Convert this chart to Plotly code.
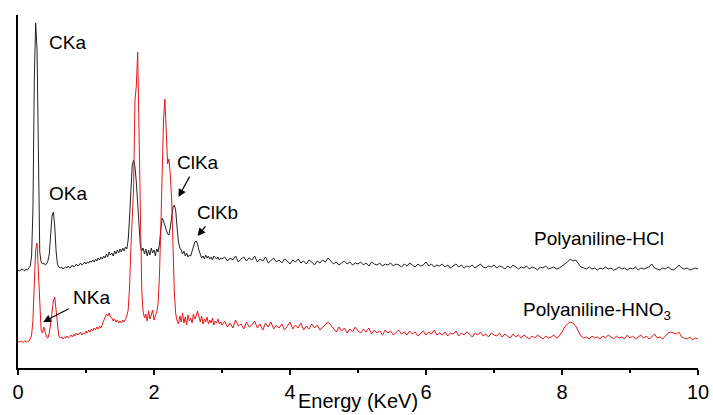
import numpy as np
import plotly.graph_objects as go

# Energy channels (keV): fine grid over the peak region, coarser beyond 3 keV
energy_low = np.round(np.arange(0, 3.0001, 0.02), 2)
energy_high = np.round(np.arange(3.04, 10.0001, 0.04), 2)
energy = np.concatenate([energy_low, energy_high])

# Polyaniline-HCl spectrum (offset upward), arbitrary intensity units
hcl_low = [
    98, 97, 98, 99, 98, 97, 99, 98, 100, 102,
    112, 160, 290, 345, 318, 180, 116, 106, 104, 105,
    103, 104, 107, 114, 134, 152, 156, 142, 117, 104,
    101, 100, 101, 99, 100, 101, 100, 102, 100, 101,
    103, 101, 102, 104, 102, 103, 105, 103, 104, 106,
    104, 106, 105, 107, 106, 108, 106, 109, 107, 110,
    108, 111, 109, 112, 110, 114, 111, 116, 113, 115,
    112, 117, 114, 118, 115, 119, 116, 120, 117, 121,
    119, 128, 150, 182, 203, 208, 201, 186, 162, 136,
    122, 117, 120, 114, 119, 112, 118, 113, 120, 115,
    118, 112, 119, 116, 124, 138, 150, 147, 141, 138,
    134, 133, 141, 152, 161, 163, 157, 140, 126, 120,
    118, 114, 117, 112, 115, 111, 113, 112, 117, 123,
    126, 127, 124, 118, 113, 110, 112, 109, 113, 110,
    112, 109, 111, 108, 112, 110, 109, 111, 108, 110,
    109,
]
hcl_high = [
    111, 107, 110, 108, 112, 106, 109, 111, 107, 110,
    108, 112, 106, 109, 107, 111, 105, 108, 110, 106,
    108, 105, 109, 107, 104, 108, 106, 109, 105, 107,
    104, 108, 106, 103, 107, 105, 108, 106, 110, 107,
    104, 106, 103, 105, 107, 104, 106, 103, 105, 104,
    106, 103, 105, 102, 106, 104, 103, 105, 102, 104,
    103, 105, 102, 104, 103, 101, 104, 102, 105, 103,
    101, 104, 102, 103, 106, 102, 104, 101, 103, 102,
    104, 101, 103, 100, 102, 104, 101, 103, 100, 102,
    101, 103, 100, 102, 104, 101, 100, 102, 101, 103,
    100, 102, 101, 99, 102, 100, 103, 101, 99, 101,
    100, 102, 99, 101, 100, 98, 101, 100, 102, 99,
    100, 101, 99, 100, 102, 104, 106, 109, 107, 108,
    104, 101, 100, 99, 101, 99, 100, 98, 100, 99,
    101, 99, 100, 98, 99, 101, 99, 100, 98, 100,
    99, 101, 98, 100, 99, 100, 101, 104, 100, 99,
    98, 100, 99, 101, 99, 98, 100, 103, 100, 99,
    100, 98, 99, 100, 99,
]

# Polyaniline-HNO3 spectrum
hno3_low = [
    26, 26, 27, 26, 26, 27, 26, 27, 27, 29,
    33, 48, 85, 118, 125, 98, 58, 38, 35, 41,
    36, 31, 30, 35, 44, 56, 67, 71, 58, 39,
    32, 30, 31, 29, 31, 30, 32, 30, 31, 33,
    31, 34, 32, 35, 33, 34, 36, 33, 35, 34,
    37, 35, 38, 36, 39, 37, 40, 38, 41, 39,
    42, 40, 44, 47, 51, 54, 52, 55, 51, 50,
    47, 49, 46, 48, 45, 47, 45, 48, 46, 49,
    52, 58, 80, 120, 145, 180, 268, 282, 316, 245,
    140, 78, 56, 50, 54, 47, 57, 49, 53, 58,
    48, 52, 56, 64, 92, 140, 200, 248, 269, 228,
    204, 209, 193, 168, 118, 74, 54, 47, 44, 52,
    46, 55, 45, 51, 43, 53, 47, 50, 45, 54,
    49, 52, 57, 50, 46, 52, 44, 49, 46, 51,
    44, 48, 45, 50, 43, 47, 45, 49, 44, 46,
    43,
]
hno3_high = [
    47, 41, 45, 40, 48, 42, 44, 39, 46, 41,
    43, 47, 40, 44, 38, 45, 41, 46, 39, 43,
    40, 44, 38, 42, 46, 39, 43, 40, 45, 38,
    42, 39, 44, 40, 43, 38, 41, 44, 46, 43,
    39, 36, 41, 37, 40, 35, 39, 36, 41, 37,
    35, 39, 36, 40, 34, 38, 35, 37, 33, 38,
    35, 37, 33, 36, 38, 34, 36, 33, 37, 34,
    36, 32, 35, 37, 33, 36, 34, 38, 33, 35,
    33, 36, 32, 35, 34, 37, 32, 35, 33, 36,
    34, 31, 35, 33, 36, 32, 34, 31, 35, 33,
    32, 35, 31, 34, 32, 30, 34, 31, 33, 30,
    33, 31, 29, 32, 30, 33, 31, 29, 32, 30,
    31, 33, 30, 32, 36, 41, 44, 46, 45, 42,
    37, 32, 30, 31, 29, 32, 30, 31, 29, 32,
    30, 33, 31, 29, 32, 30, 31, 29, 33, 30,
    32, 29, 31, 33, 30, 32, 29, 31, 34, 30,
    31, 29, 32, 35, 36, 35, 34, 36, 31, 30,
    29, 31, 28, 30, 29,
]

hcl = hcl_low + hcl_high
hno3 = hno3_low + hno3_high

FONT = "Arial, Liberation Sans, sans-serif"
LABEL_FONT = dict(family=FONT, size=19, color="black")

fig = go.Figure()
fig.add_trace(go.Scatter(x=energy, y=hcl, mode="lines",
                         line=dict(color="#222222", width=1), name="Polyaniline-HCl"))
fig.add_trace(go.Scatter(x=energy, y=hno3, mode="lines",
                         line=dict(color="#e8161b", width=1), name="Polyaniline-HNO3"))

# Plain labels
labels = [
    ("CKa", 0.43, 326),
    ("OKa", 0.43, 175),
    ("Polyaniline-HCl", 7.56, 130),
    ("Polyaniline-HNO<sub>3</sub>", 7.39, 57),
]
for text, x, y in labels:
    fig.add_annotation(x=x, y=y, text=text, showarrow=False, xanchor="left",
                       yanchor="middle", font=LABEL_FONT)

# Labels with an arrow to the peak: text, label centre (x, y), arrow tip (x, y)
pointers = [
    ("ClKa", 2.64, 206, 2.36, 171),
    ("ClKb", 2.93, 156, 2.64, 132),
    ("NKa", 1.08, 71, 0.37, 46),
]
for text, tx, ty, px, py in pointers:
    fig.add_annotation(x=px, y=py, ax=tx, ay=ty, xref="x", yref="y", axref="x", ayref="y",
                       text=text, font=LABEL_FONT, showarrow=True, arrowhead=2,
                       arrowsize=1.3, arrowwidth=1.2, arrowcolor="black",
                       startstandoff=3)

# x-axis title, sitting at the bottom edge of the figure
fig.add_annotation(x=0.5, y=-0.131, xref="paper", yref="paper", text="Energy (KeV)",
                   showarrow=False, xanchor="center", yanchor="bottom",
                   font=dict(family=FONT, size=20, color="black"))

fig.update_layout(
    width=713, height=415,
    margin=dict(l=18, r=15, t=15, b=47),
    paper_bgcolor="white", plot_bgcolor="white",
    showlegend=False,
    font=dict(family=FONT, color="black"),
)
fig.update_xaxes(
    range=[0, 10], showgrid=False, zeroline=False, automargin=False,
    showline=True, linecolor="black", linewidth=2,
    tickvals=[0, 2, 4, 6, 8, 10], ticks="outside", ticklen=5, tickwidth=1.5,
    tickcolor="black", tickfont=dict(size=20, family=FONT),
    minor=dict(dtick=1, tick0=0, ticks="outside", ticklen=3, tickwidth=1.5, tickcolor="black"),
)
fig.update_yaxes(
    range=[0, 353], showgrid=False, zeroline=False, automargin=False,
    showline=True, linecolor="black", linewidth=2,
    showticklabels=False, ticks="",
)

fig.write_html("out.html")
